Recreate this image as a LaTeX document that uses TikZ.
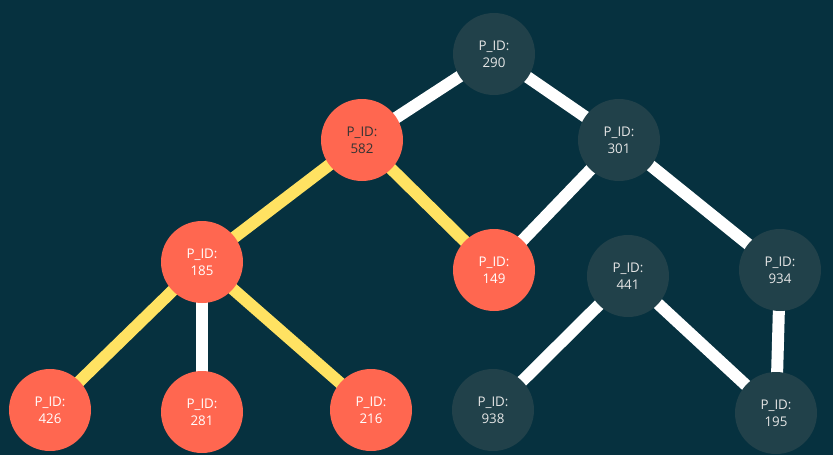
\documentclass[tikz,border=0pt]{standalone}
\usepackage{fontspec}
\setmainfont{Open Sans}
\definecolor{bgc}{HTML}{06313F}
\definecolor{darkn}{HTML}{21414A}
\definecolor{orn}{HTML}{FF6750}
\definecolor{yel}{HTML}{FFE262}
\definecolor{lgt}{HTML}{E6E6E6}
\begin{document}
\begin{tikzpicture}[x=0.75pt,y=-0.75pt,
  nd/.style={circle,minimum size=61.5pt,inner sep=0pt,align=center,
    font=\fontsize{10}{12.5}\selectfont},
  dk/.style={nd,fill=darkn,text=lgt},
  hot/.style={nd,fill=orn,text=white},
  hotd/.style={nd,fill=orn,text=black!80},
  wl/.style={draw=white,line width=9pt},
  yl/.style={draw=yel,line width=9pt}]
\fill[bgc] (0,0) rectangle (833,455);
\useasboundingbox (0,0) rectangle (833,455);
\path
  (494,54)  coordinate (c290)
  (362,140) coordinate (c582)
  (619,140) coordinate (c301)
  (202,262) coordinate (c185)
  (494,270) coordinate (c149)
  (628,276) coordinate (c441)
  (780,270) coordinate (c934)
  (50,410)  coordinate (c426)
  (202,412) coordinate (c281)
  (371,410) coordinate (c216)
  (493,410) coordinate (c938)
  (776,413) coordinate (c195);
% edges
\draw[wl] (c290) -- (c582);
\draw[wl] (c290) -- (c301);
\draw[wl] (c301) -- (c149);
\draw[wl] (c301) -- (c934);
\draw[wl] (c934) -- (c195);
\draw[wl] (c441) -- (c938);
\draw[wl] (c441) -- (c195);
\draw[wl] (c185) -- (c281);
\draw[yl] (c582) -- (c185);
\draw[yl] (c582) -- (c149);
\draw[yl] (c185) -- (c426);
\draw[yl] (c185) -- (c216);
% nodes
\node[dk] (n290) at (c290) {P\_ID:\\290};
\node[hotd] (n582) at (c582) {P\_ID:\\582};
\node[dk] (n301) at (c301) {P\_ID:\\301};
\node[hot] (n185) at (c185) {P\_ID:\\185};
\node[hot] (n149) at (c149) {P\_ID:\\149};
\node[dk] (n441) at (c441) {P\_ID:\\441};
\node[dk] (n934) at (c934) {P\_ID:\\934};
\node[hot] (n426) at (c426) {P\_ID:\\426};
\node[hot] (n281) at (c281) {P\_ID:\\281};
\node[hot] (n216) at (c216) {P\_ID:\\216};
\node[dk] (n938) at (c938) {P\_ID:\\938};
\node[dk] (n195) at (c195) {P\_ID:\\195};
\end{tikzpicture}
\end{document}
